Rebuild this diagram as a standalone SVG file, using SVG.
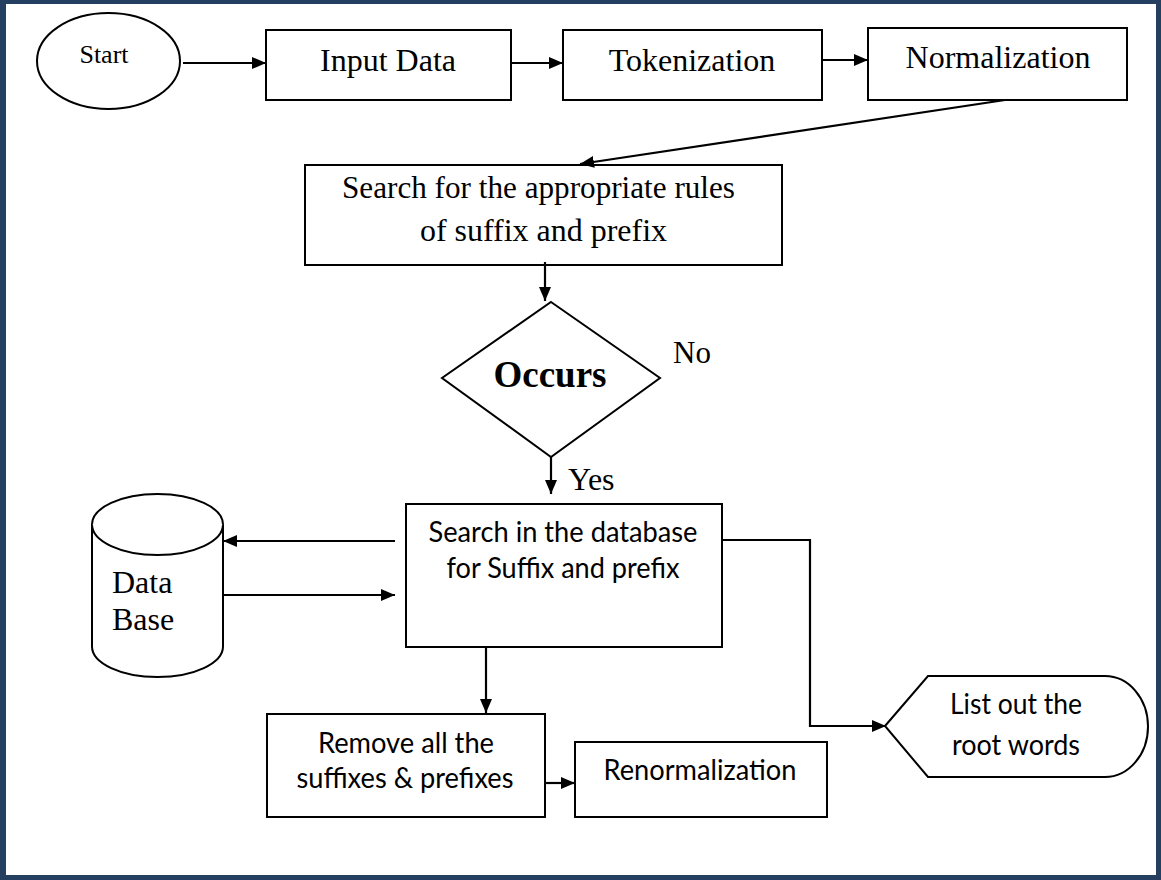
<svg xmlns="http://www.w3.org/2000/svg" width="1161" height="880" viewBox="0 0 1161 880">
<defs>
<marker id="ah" viewBox="0 0 14 12" refX="14" refY="6" markerWidth="14" markerHeight="12" markerUnits="userSpaceOnUse" orient="auto">
<path d="M0,0 L14,6 L0,12 Z" fill="#000"/>
</marker>
</defs>
<style>
.shape{fill:#fff;stroke:#000;stroke-width:2}
.ser{font-family:"Liberation Serif","Times New Roman",serif;fill:#000;text-anchor:middle}
.cal{font-family:Lato,"Liberation Sans",sans-serif;fill:#000;text-anchor:middle;font-size:28px}
.conn{fill:none;stroke:#000;stroke-width:2.2}
</style>
<rect x="0" y="0" width="1161" height="880" fill="#243F60"/>
<rect x="6" y="4" width="1150" height="871" fill="#fff"/>

<g id="start">
<ellipse class="shape" cx="108.5" cy="61" rx="71.5" ry="48"/>
<text class="ser" x="104" y="63" font-size="26">Start</text>
</g>
<g id="input">
<rect class="shape" x="266" y="30" width="245" height="70"/>
<text class="ser" x="388" y="71" font-size="32">Input Data</text>
</g>
<g id="token">
<rect class="shape" x="563" y="30" width="259" height="70"/>
<text class="ser" x="692" y="71" font-size="32">Tokenization</text>
</g>
<g id="norm">
<rect class="shape" x="868" y="28" width="259" height="72"/>
<text class="ser" x="998" y="68" font-size="32">Normalization</text>
</g>
<g id="searchrules">
<rect class="shape" x="305" y="165" width="477" height="100"/>
<text class="ser" x="538.5" y="198" font-size="31.5" textLength="393" lengthAdjust="spacingAndGlyphs">Search for the appropriate rules</text>
<text class="ser" x="543.5" y="241" font-size="31.5" textLength="247" lengthAdjust="spacingAndGlyphs">of suffix and prefix</text>
</g>
<g id="occurs">
<polygon class="shape" points="551,302 660,378 551,457 442,378"/>
<text class="ser" x="550" y="387" font-size="37" font-weight="bold">Occurs</text>
</g>
<g id="searchdb">
<rect class="shape" x="406" y="504" width="316" height="143"/>
<text class="cal" x="563" y="542" textLength="269" lengthAdjust="spacingAndGlyphs">Search in the database</text>
<text class="cal" x="563" y="578" textLength="233" lengthAdjust="spacingAndGlyphs">for Suffix and prefix</text>
</g>
<g id="database">
<path class="shape" d="M92,524.5 L92,646.5 A65.5,30.5 0 0 0 223,646.5 L223,524.5 A65.5,30.5 0 0 0 92,524.5 Z"/>
<path class="shape" fill="none" d="M92,524.5 A65.5,30.5 0 0 0 223,524.5"/>
<text class="ser" x="112" y="593" font-size="32" style="text-anchor:start">Data</text>
<text class="ser" x="112" y="630" font-size="32" style="text-anchor:start">Base</text>
</g>
<g id="remove">
<rect class="shape" x="267" y="714" width="278" height="103"/>
<text class="cal" x="406" y="753" textLength="176" lengthAdjust="spacingAndGlyphs">Remove all the</text>
<text class="cal" x="405" y="788" textLength="217" lengthAdjust="spacingAndGlyphs">suffixes &amp; prefixes</text>
</g>
<g id="renorm">
<rect class="shape" x="575" y="742" width="252" height="75"/>
<text class="cal" x="700" y="780" textLength="193" lengthAdjust="spacingAndGlyphs">Renormalization</text>
</g>
<g id="listout">
<path class="shape" d="M885,726 L928,676 L1105,676 A43,50.5 0 0 1 1105,777 L928,777 Z"/>
<text class="cal" x="1016" y="714" textLength="132" lengthAdjust="spacingAndGlyphs">List out the</text>
<text class="cal" x="1016" y="755" textLength="128" lengthAdjust="spacingAndGlyphs">root words</text>
</g>
<g id="labels">
<text class="ser" x="673" y="363" font-size="31" style="text-anchor:start">No</text>
<text class="ser" x="568" y="490" font-size="32" style="text-anchor:start">Yes</text>
</g>

<g id="connectors">
<line class="conn" x1="183" y1="63" x2="266" y2="63" marker-end="url(#ah)"/>
<line class="conn" x1="511" y1="63" x2="563" y2="63" marker-end="url(#ah)"/>
<line class="conn" x1="823" y1="60" x2="868" y2="60" marker-end="url(#ah)"/>
<line class="conn" x1="1005" y1="100" x2="580" y2="164" marker-end="url(#ah)"/>
<line class="conn" x1="545" y1="262" x2="545" y2="301" marker-end="url(#ah)"/>
<line class="conn" x1="551" y1="457" x2="551" y2="494" marker-end="url(#ah)"/>
<line class="conn" x1="395" y1="541" x2="223" y2="541" marker-end="url(#ah)"/>
<line class="conn" x1="223" y1="595" x2="395" y2="595" marker-end="url(#ah)"/>
<line class="conn" x1="486" y1="647" x2="486" y2="713" marker-end="url(#ah)"/>
<line class="conn" x1="545" y1="783" x2="575" y2="783" marker-end="url(#ah)"/>
<polyline class="conn" points="722,540 810,540 810,726 886,726" marker-end="url(#ah)"/>
</g>
</svg>
